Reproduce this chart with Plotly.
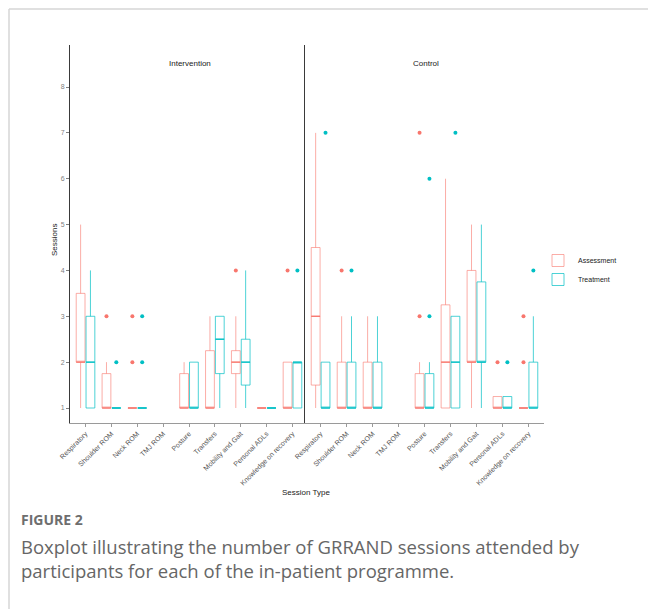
import plotly.graph_objects as go

W, H = 648, 609

categories = ["Respiratory", "Shoulder ROM", "Neck ROM", "TMJ ROM", "Posture",
              "Transfers", "Mobility and Gait", "Personal ADLs", "Knowledge on recovery"]
y_ticks = [1, 2, 3, 4, 5, 6, 7, 8]

# Intervention - Assessment
int_a_lo = [1, 1, 1, None, 1, 1, 1, 1, 1]
int_a_q1 = [2, 1, 1, None, 1, 1, 1.75, 1, 1]
int_a_med = [2, 1, 1, None, 1, 1, 2, 1, 1]
int_a_q3 = [3.5, 1.75, 1, None, 1.75, 2.25, 2.25, 1, 2]
int_a_hi = [5, 2, 1, None, 2, 3, 3, 1, 2]
int_a_out = [[], [3], [2, 3], [], [], [], [4], [], [4]]

# Intervention - Treatment
int_t_lo = [1, 1, 1, None, 1, 1, 1, 1, 1]
int_t_q1 = [1, 1, 1, None, 1, 1.75, 1.5, 1, 1]
int_t_med = [2, 1, 1, None, 1, 2.5, 2, 1, 2]
int_t_q3 = [3, 1, 1, None, 2, 3, 2.5, 1, 2]
int_t_hi = [4, 1, 1, None, 2, 3, 4, 1, 2]
int_t_out = [[], [2], [2, 3], [], [], [], [], [], [4]]

# Control - Assessment
ctl_a_lo = [1, 1, 1, None, 1, 1, 1, 1, 1]
ctl_a_q1 = [1.5, 1, 1, None, 1, 1, 2, 1, 1]
ctl_a_med = [3, 1, 1, None, 1, 2, 2, 1, 1]
ctl_a_q3 = [4.5, 2, 2, None, 1.75, 3.25, 4, 1.25, 1]
ctl_a_hi = [7, 3, 3, None, 2, 6, 5, 1.25, 1]
ctl_a_out = [[], [4], [], [], [3, 7], [], [], [2], [2, 3]]

# Control - Treatment
ctl_t_lo = [1, 1, 1, None, 1, 1, 1, 1, 1]
ctl_t_q1 = [1, 1, 1, None, 1, 1, 2, 1, 1]
ctl_t_med = [1, 1, 1, None, 1, 2, 2, 1, 1]
ctl_t_q3 = [2, 2, 2, None, 1.75, 3, 3.75, 1.25, 2]
ctl_t_hi = [2, 3, 3, None, 2, 3, 5, 1.25, 3]
ctl_t_out = [[7], [4], [], [], [3, 6], [7], [], [2], [4]]

RED = "#F8766D"
TEAL = "#00BFC4"
RED_LINE = "rgba(248,118,109,0.6)"
TEAL_LINE = "rgba(0,191,196,0.7)"
DODGE = 0.19
BW = 0.34

fig = go.Figure()


def add_group(name, color, line_color, lo, q1, med, q3, hi, out, sign, xa, ya, showlegend):
    xs, L, Q1, M, Q3, U = [], [], [], [], [], []
    for i, v in enumerate(med):
        if v is None:
            continue
        xs.append(i + 1 + sign * DODGE)
        L.append(lo[i]); Q1.append(q1[i]); M.append(v); Q3.append(q3[i]); U.append(hi[i])
    fig.add_trace(go.Box(
        x=xs, q1=Q1, median=M, q3=Q3, lowerfence=L, upperfence=U,
        name=name, legendgroup=name, showlegend=showlegend,
        width=BW, whiskerwidth=0, boxpoints=False,
        line=dict(color=line_color, width=1), fillcolor="rgba(255,255,255,0)",
        xaxis=xa, yaxis=ya, hoverinfo="skip"))
    # medians (thicker, as ggplot draws them)
    mx, my = [], []
    for x, m in zip(xs, M):
        mx += [x - BW / 2, x + BW / 2, None]
        my += [m, m, None]
    fig.add_trace(go.Scatter(x=mx, y=my, mode="lines", line=dict(color=color, width=1.3),
                             showlegend=False, xaxis=xa, yaxis=ya, hoverinfo="skip"))
    ox, oy = [], []
    for i, pts in enumerate(out):
        for p in pts:
            ox.append(i + 1 + sign * DODGE)
            oy.append(p)
    if ox:
        fig.add_trace(go.Scatter(x=ox, y=oy, mode="markers",
                                 marker=dict(color=color, size=4),
                                 showlegend=False, xaxis=xa, yaxis=ya, hoverinfo="skip"))


add_group("Assessment", RED, RED_LINE, int_a_lo, int_a_q1, int_a_med, int_a_q3, int_a_hi, int_a_out, -1, "x", "y", True)
add_group("Treatment", TEAL, TEAL_LINE, int_t_lo, int_t_q1, int_t_med, int_t_q3, int_t_hi, int_t_out, 1, "x", "y", True)
add_group("Assessment", RED, RED_LINE, ctl_a_lo, ctl_a_q1, ctl_a_med, ctl_a_q3, ctl_a_hi, ctl_a_out, -1, "x2", "y2", False)
add_group("Treatment", TEAL, TEAL_LINE, ctl_t_lo, ctl_t_q1, ctl_t_med, ctl_t_q3, ctl_t_hi, ctl_t_out, 1, "x2", "y2", False)


def px(x):
    return x / W


def py(y):
    return 1 - y / H


y_dom = [py(423), py(45)]
y_rng = [0.673, 8.916]
x_rng = [0.4, 9.6]
tickfont = dict(family="Liberation Sans, Arial, sans-serif", size=7, color="#555555")

xcommon = dict(range=x_rng, tickvals=list(range(1, 10)), ticktext=categories,
               tickangle=-45, tickfont=tickfont, showline=True, linecolor="#9a9a9a",
               linewidth=1, ticks="outside", ticklen=3, tickcolor="#9a9a9a",
               showgrid=False, zeroline=False, fixedrange=True, automargin=False)
fig.update_layout(
    xaxis=dict(domain=[px(70), px(308)], anchor="y", **xcommon),
    xaxis2=dict(domain=[px(305), px(544)], anchor="y2", **xcommon),
    yaxis=dict(domain=y_dom, range=y_rng, anchor="x", tickvals=y_ticks, automargin=False,
               tickfont=dict(family="Liberation Sans, Arial, sans-serif", size=7, color="#7f7f7f"),
               showline=True, linecolor="#3a3a3a", linewidth=1, ticks="outside",
               ticklen=3, tickcolor="#7f7f7f", showgrid=False, zeroline=False),
    yaxis2=dict(domain=y_dom, range=y_rng, anchor="x2", showticklabels=False, automargin=False,
                showline=True, linecolor="#3a3a3a", linewidth=1, ticks="",
                showgrid=False, zeroline=False),
)

ann_font = dict(family="Liberation Sans, Arial, sans-serif", size=8, color="#222")


def note(x, y, text, font, xanchor="center", angle=0):
    fig.add_annotation(x=px(x), y=py(y), xref="paper", yref="paper", text=text,
                       xanchor=xanchor, yanchor="middle", showarrow=False,
                       textangle=angle, font=font)


note(190, 64, "Intervention", ann_font)
note(426, 64, "Control", ann_font)
note(306, 492, "Session Type", ann_font)
note(55, 240, "Sessions", ann_font, angle=-90)

cap_font = "Open Sans, Noto Sans, sans-serif"
note(19, 519, "<b>FIGURE 2</b>", dict(family=cap_font, size=14, color="#6e6e6e"), xanchor="left")
note(19, 546, "Boxplot illustrating the number of GRRAND sessions attended by",
     dict(family=cap_font, size=18.5, color="#666666"), xanchor="left")
note(19, 570, "participants for each of the in-patient programme.",
     dict(family=cap_font, size=18.5, color="#666666"), xanchor="left")

# light frame of the figure panel
fig.add_shape(type="line", xref="paper", yref="paper", x0=px(9), x1=1, y0=py(9), y1=py(9),
              line=dict(color="#d6d6d6", width=1.5))
fig.add_shape(type="line", xref="paper", yref="paper", x0=px(9), x1=px(9), y0=py(9), y1=0,
              line=dict(color="#d6d6d6", width=1.5))

fig.update_layout(
    width=W, height=H, margin=dict(l=0, r=0, t=0, b=0, autoexpand=False),
    paper_bgcolor="white", plot_bgcolor="white",
    boxmode="overlay",
    legend=dict(x=px(538), y=py(246), xanchor="left", yanchor="top",
                font=dict(family="Liberation Sans, Arial, sans-serif", size=7, color="#222"),
                tracegroupgap=0, itemwidth=30, bgcolor="rgba(0,0,0,0)"),
)

fig.write_html("out.html", config={"displayModeBar": False},
               post_script="document.body.style.margin='0px';")
